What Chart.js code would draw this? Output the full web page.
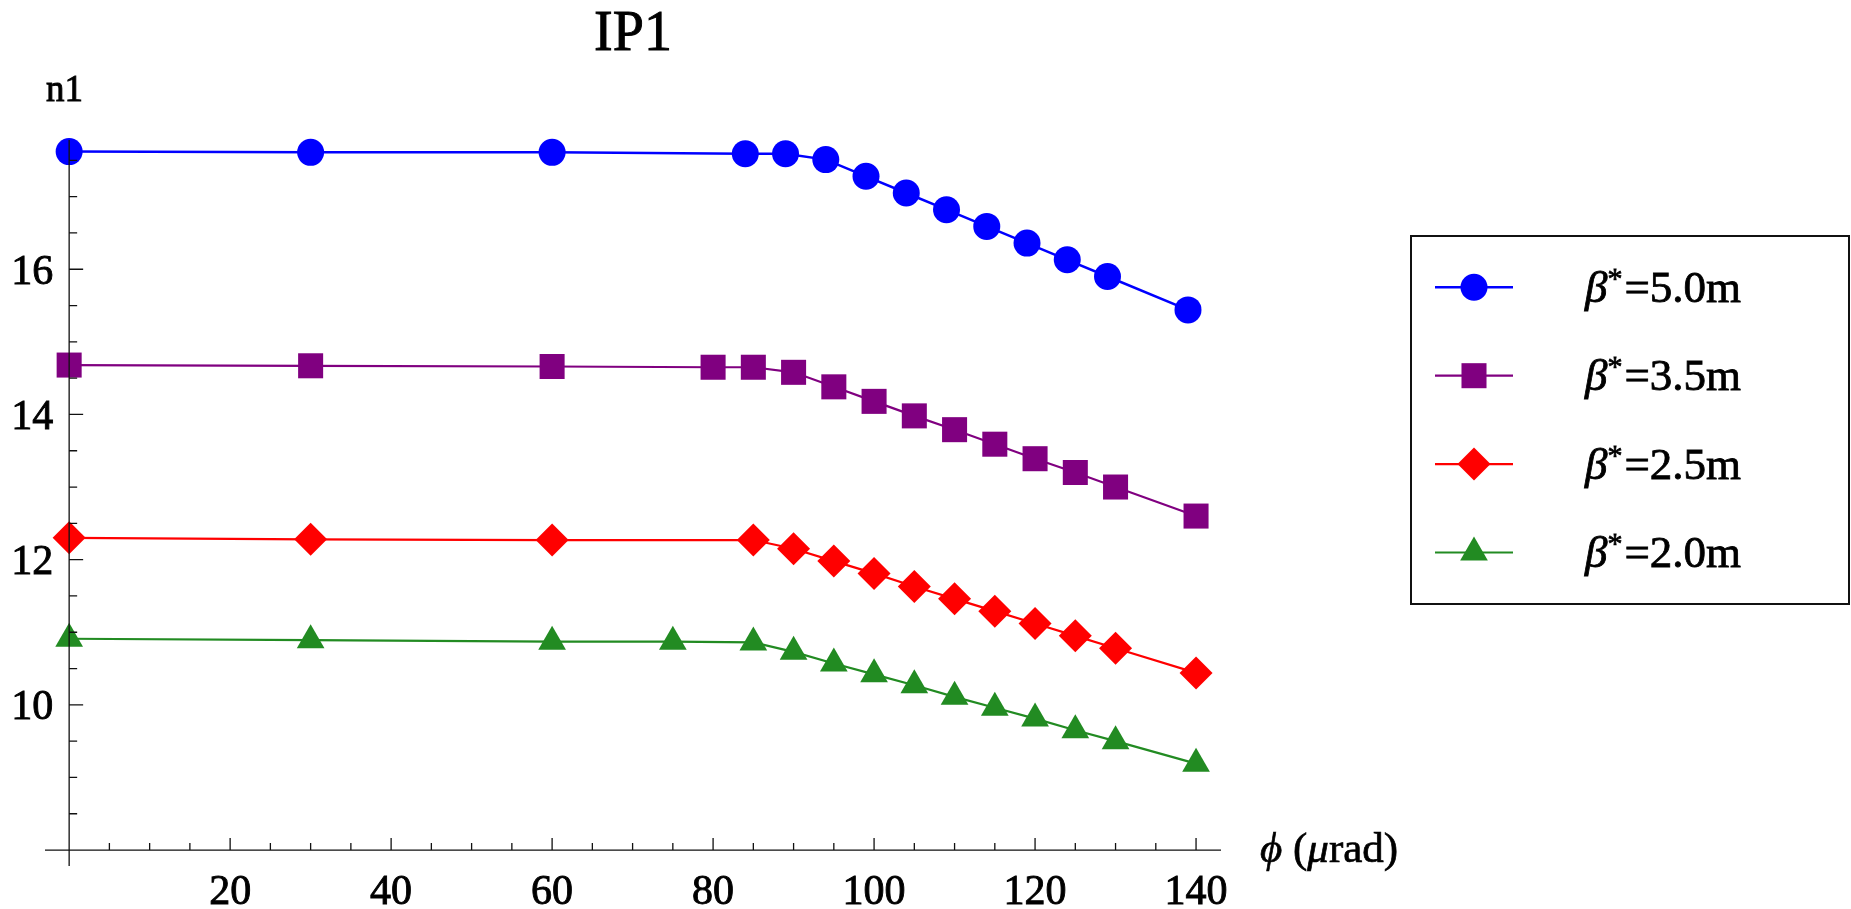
<!DOCTYPE html>
<html>
<head>
<meta charset="utf-8">
<title>IP1 - n1 vs crossing angle</title>
<script src="https://cdn.jsdelivr.net/npm/chart.js@4.4.1/dist/chart.umd.min.js"></script>
<style>
  html, body { margin: 0; padding: 0; background: #fff; }
  #wrap { width: 1851px; height: 909px; }
</style>
</head>
<body>
<div id="wrap"><canvas id="n1Chart" width="1851" height="909"></canvas></div>
<script>
// ========================
// Data (phi in urad, n1 aperture)
// ========================
const blueX  = [0, 30, 60, 84, 89, 94, 99, 104, 109, 114, 119, 124, 129, 139];
const blueN1 = [17.62, 17.61, 17.61, 17.59, 17.59, 17.51, 17.28, 17.05, 16.82, 16.59, 16.36, 16.13, 15.90, 15.44];

const purpleX  = [0, 30, 60, 80, 85, 90, 95, 100, 105, 110, 115, 120, 125, 130, 140];
const purpleN1 = [14.68, 14.67, 14.66, 14.65, 14.65, 14.58, 14.38, 14.18, 13.98, 13.79, 13.59, 13.39, 13.20, 13.00, 12.60];

const redX  = [0, 30, 60, 85, 90, 95, 100, 105, 110, 115, 120, 125, 130, 140];
const redN1 = [12.30, 12.28, 12.27, 12.27, 12.15, 11.98, 11.81, 11.63, 11.46, 11.29, 11.12, 10.95, 10.78, 10.44];

const greenX  = [0, 30, 60, 75, 85, 90, 95, 100, 105, 110, 115, 120, 125, 130, 140];
const greenN1 = [10.91, 10.89, 10.87, 10.87, 10.86, 10.73, 10.57, 10.42, 10.27, 10.11, 9.96, 9.81, 9.65, 9.50, 9.19];

const betaStar = ['5.0', '3.5', '2.5', '2.0'];

const xMajorTicks = [20, 40, 60, 80, 100, 120, 140];
const yMajorTicks = [10, 12, 14, 16];

const SERIF = '"Liberation Serif", "DejaVu Serif", serif';

function toPoints(xs, ys) {
    return xs.map((x, i) => ({ x: x, y: ys[i] }));
}

function series(label, xs, ys, color, style, radius, width) {
    return {
        label: label,
        data: toPoints(xs, ys),
        borderColor: color,
        backgroundColor: color,
        pointBackgroundColor: color,
        pointBorderWidth: 0,
        pointStyle: style,
        pointRadius: radius,
        borderWidth: width,
        tension: 0,
        clip: false
    };
}

// the original text is a bit heavier than plain Times, so fill + thin stroke
function heavyText(ctx, txt, x, y) {
    ctx.fillText(txt, x, y);
    ctx.strokeText(txt, x, y);
}

// ========================
// Mathematica-like axes (drawn over the points, like the original)
// ========================
const axesPlugin = {
    id: 'mmaAxes',
    afterDatasetsDraw(chart) {
        const { ctx, scales: { x, y } } = chart;
        const x0 = x.getPixelForValue(0);
        const yAxis = y.getPixelForValue(8);

        ctx.save();
        ctx.strokeStyle = '#111';
        ctx.lineWidth = 1.3;
        ctx.beginPath();
        ctx.moveTo(x.left, yAxis);
        ctx.lineTo(x.right, yAxis);
        ctx.moveTo(x0, y.top);
        ctx.lineTo(x0, y.bottom);

        for (let v = 5; v <= x.max; v += 5) {
            const px = x.getPixelForValue(v);
            const len = xMajorTicks.includes(v) ? 12 : 7;
            ctx.moveTo(px, yAxis);
            ctx.lineTo(px, yAxis - len);
        }
        for (let v = 8.5; v <= y.max; v += 0.5) {
            const py = y.getPixelForValue(v);
            const len = yMajorTicks.includes(v) ? 14 : 8;
            ctx.moveTo(x0, py);
            ctx.lineTo(x0 + len, py);
        }
        ctx.stroke();

        ctx.fillStyle = '#000';
        ctx.strokeStyle = '#000';
        ctx.lineWidth = 0.9;
        ctx.font = '42px ' + SERIF;
        ctx.textBaseline = 'alphabetic';
        ctx.textAlign = 'center';
        xMajorTicks.forEach(v => heavyText(ctx, String(v), x.getPixelForValue(v), yAxis + 54));

        ctx.textAlign = 'right';
        yMajorTicks.forEach(v => heavyText(ctx, String(v), x0 - 16, y.getPixelForValue(v) + 14.5));

        // title + axis names
        ctx.textAlign = 'center';
        ctx.font = '56px ' + SERIF;
        heavyText(ctx, 'IP1', (x.left + x.right) / 2, 50);

        ctx.textAlign = 'left';
        ctx.font = '37px ' + SERIF;
        heavyText(ctx, 'n1', 46, 101);

        let tx = 1260;
        const ty = 862;
        const parts = [
            ['italic 43px ' + SERIF, '\u03D5'],
            ['43px ' + SERIF, ' ('],
            ['italic 43px ' + SERIF, '\u03BC'],
            ['43px ' + SERIF, 'rad)']
        ];
        ctx.lineWidth = 0.7;
        parts.forEach(([font, txt]) => {
            ctx.font = font;
            heavyText(ctx, txt, tx, ty);
            tx += ctx.measureText(txt).width;
        });
        ctx.restore();
    }
};

// ========================
// Boxed legend on the right
// ========================
const legendPlugin = {
    id: 'boxLegend',
    afterDraw(chart) {
        const ctx = chart.ctx;
        ctx.save();
        ctx.strokeStyle = '#111';
        ctx.lineWidth = 2;
        ctx.strokeRect(1411, 236, 438, 368);

        chart.data.datasets.forEach((ds, i) => {
            const cy = 287.3 + i * 88.4;
            ctx.strokeStyle = ds.borderColor;
            ctx.lineWidth = ds.borderWidth;
            ctx.beginPath();
            ctx.moveTo(1435, cy);
            ctx.lineTo(1513, cy);
            ctx.stroke();

            ctx.fillStyle = ds.pointBackgroundColor;
            Chart.helpers.drawPoint(ctx, {
                pointStyle: ds.pointStyle,
                radius: ds.pointRadius,
                rotation: 0,
                borderWidth: 0
            }, 1474, cy);

            // β* = value m
            ctx.fillStyle = '#000';
            ctx.strokeStyle = '#000';
            ctx.lineWidth = 0.8;
            ctx.textAlign = 'left';
            ctx.textBaseline = 'alphabetic';
            const base = cy + 14.5;
            let tx = 1585;
            ctx.font = 'italic 45px ' + SERIF;
            heavyText(ctx, '\u03B2', tx, base);
            tx += ctx.measureText('\u03B2').width;
            ctx.font = '30px ' + SERIF;
            heavyText(ctx, '*', tx, base - 14);
            tx += ctx.measureText('*').width + 2;
            ctx.font = '45px ' + SERIF;
            heavyText(ctx, '=' + betaStar[i] + 'm', tx, base);
        });
        ctx.restore();
    }
};

// ========================
// Chart
// ========================
const ctx = document.getElementById('n1Chart').getContext('2d');
new Chart(ctx, {
    type: 'line',
    data: {
        datasets: [
            series('\u03B2*=5.0m', blueX, blueN1, '#0000ff', 'circle', 13.5, 2.5),
            series('\u03B2*=3.5m', purpleX, purpleN1, '#800080', 'rect', 17.7, 2.2),
            series('\u03B2*=2.5m', redX, redN1, '#ff0000', 'rectRot', 16.5, 2.2),
            series('\u03B2*=2.0m', greenX, greenN1, '#228b22', 'triangle', 16, 2.2)
        ]
    },
    options: {
        responsive: false,
        animation: false,
        devicePixelRatio: 1,
        layout: { padding: { left: 45, right: 630, top: 140, bottom: 43 } },
        scales: {
            x: { type: 'linear', min: -3, max: 143.1, display: false },
            y: { type: 'linear', min: 7.78, max: 17.78, display: false }
        },
        plugins: {
            legend: { display: false },
            tooltip: { enabled: false },
            title: { display: false }
        }
    },
    plugins: [axesPlugin, legendPlugin]
});
</script>
</body>
</html>
